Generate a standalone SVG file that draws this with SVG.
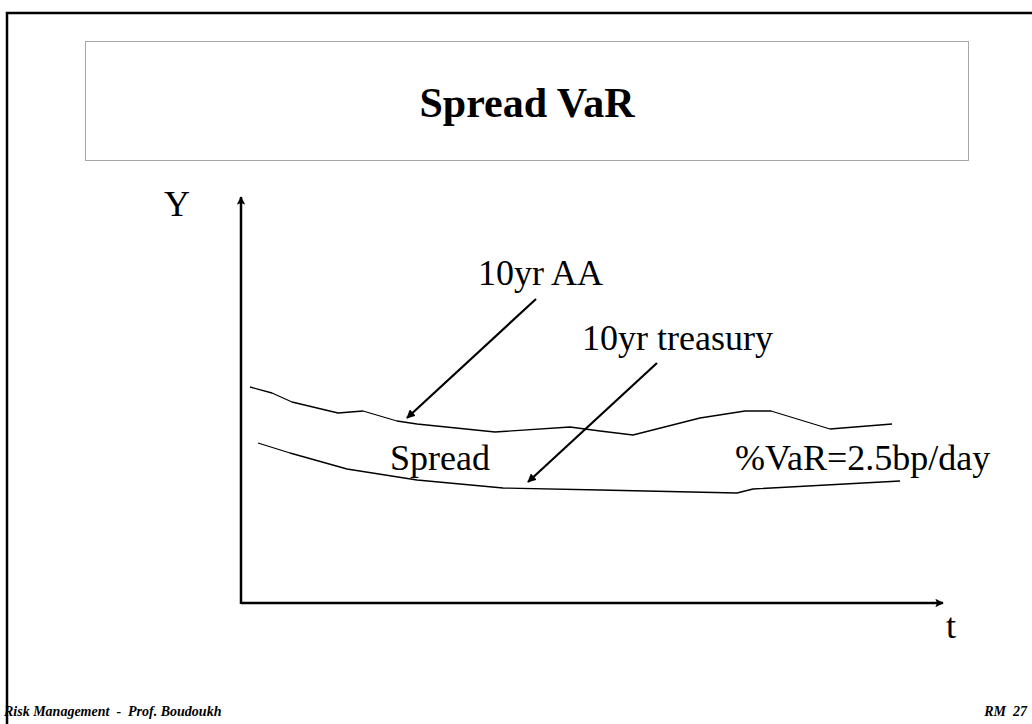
<svg xmlns="http://www.w3.org/2000/svg" width="1032" height="724" viewBox="0 0 1032 724">
  <style>
    .serif { font-family: "Liberation Serif", "Times New Roman", serif; fill: #000; }
    .label { font-size: 36px; }
    .title { font-size: 42px; font-weight: bold; }
    .foot { font-size: 14px; font-weight: bold; font-style: italic; white-space: pre; }
    .curve { fill: none; stroke: #000; stroke-width: 1.3; stroke-linejoin: round; }
    .axis { fill: none; stroke: #000; stroke-width: 2.5; }
    .pointer { fill: none; stroke: #000; stroke-width: 2.2; }
  </style>
  <defs>
    <marker id="head" viewBox="0 0 10 10" refX="9" refY="5" markerWidth="4" markerHeight="4" orient="auto" markerUnits="strokeWidth">
      <path d="M0,0 L10,5 L0,10 z" fill="#000"/>
    </marker>
    <marker id="axisHead" viewBox="0 0 10 10" refX="9" refY="5" markerWidth="3.4" markerHeight="3.4" orient="auto" markerUnits="strokeWidth">
      <path d="M0,0 L10,5 L0,10 L2,5 z" fill="#000"/>
    </marker>
  </defs>

  <rect width="1032" height="724" fill="#fff"/>

  <!-- slide frame -->
  <path d="M7,724 V13 H1032" fill="none" stroke="#000" stroke-width="2.5"/>

  <!-- title box -->
  <g id="title">
    <rect x="85.5" y="41.5" width="883" height="119" fill="#fff" stroke="#a6a6a6" stroke-width="1"/>
    <text class="serif title" x="527" y="117" text-anchor="middle">Spread VaR</text>
  </g>

  <!-- axes -->
  <g id="axes">
    <line class="axis" x1="241" y1="604" x2="241" y2="197" marker-end="url(#axisHead)"/>
    <line class="axis" x1="241" y1="603" x2="943" y2="603" marker-end="url(#axisHead)"/>
    <text class="serif label" x="164" y="216">Y</text>
    <text class="serif label" x="946" y="638">t</text>
  </g>

  <!-- yield curves -->
  <g id="aa-curve">
    <polyline class="curve" points="250,387 272,393 292,402 338,413 363,411 397,421 417,424 495,432 570,427 600,431 633,435 700,418 745,411 771,411 830,429 892,424"/>
  </g>
  <g id="treasury-curve">
    <polyline class="curve" points="258,443 290,453 347,469 417,480 503,488 600,490 737,493 753,489 900,481"/>
  </g>

  <!-- labels -->
  <g id="aa-label">
    <text class="serif label" x="478" y="285">10yr AA</text>
  </g>
  <g id="treasury-label">
    <text class="serif label" x="582" y="350">10yr treasury</text>
  </g>
  <g id="spread-label">
    <text class="serif label" x="390" y="470">Spread</text>
  </g>
  <g id="var-label">
    <text class="serif label" x="735" y="470">%VaR=2.5bp/day</text>
  </g>

  <!-- pointers from labels to curves -->
  <g id="connectors">
    <line class="pointer" x1="536" y1="299" x2="407" y2="418" marker-end="url(#head)"/>
    <line class="pointer" x1="657" y1="363" x2="528" y2="482" marker-end="url(#head)"/>
  </g>

  <!-- footer -->
  <g id="footer">
    <text class="serif foot" x="4" y="716">Risk Management  -  Prof. Boudoukh</text>
    <text class="serif foot" x="1027" y="716" text-anchor="end">RM  27</text>
  </g>
</svg>
